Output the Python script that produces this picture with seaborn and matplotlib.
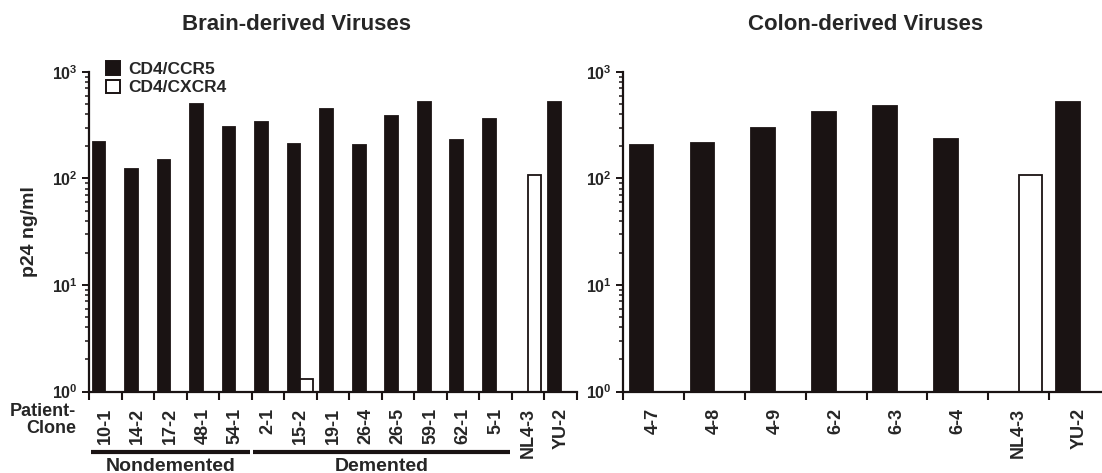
import numpy as np
import pandas as pd
import matplotlib
matplotlib.use("Agg")
import matplotlib.pyplot as plt
import seaborn as sns
from matplotlib.patches import Patch
from matplotlib.ticker import FixedLocator, NullFormatter, FuncFormatter
import matplotlib.transforms as mtransforms

# ---------------- data ----------------
brain_clones = ["10-1", "14-2", "17-2", "48-1", "54-1", "2-1", "15-2", "19-1",
                "26-4", "26-5", "59-1", "62-1", "5-1", "NL4-3", "YU-2"]
brain_ccr5 = [220, 122, 148, 500, 305, 340, 212, 452, 207, 383, 523, 228, 363, np.nan, 523]
brain_cxcr4 = [np.nan, np.nan, np.nan, np.nan, np.nan, np.nan, 1.3, np.nan,
               np.nan, np.nan, np.nan, np.nan, np.nan, 107, np.nan]

colon_clones = ["4-7", "4-8", "4-9", "6-2", "6-3", "6-4", "NL4-3", "YU-2"]
colon_ccr5 = [208, 216, 299, 419, 484, 235, np.nan, 523]
colon_cxcr4 = [np.nan, np.nan, np.nan, np.nan, np.nan, np.nan, 107, np.nan]

receptors = ["CD4/CCR5", "CD4/CXCR4"]
groups = [("Nondemented", 0, 4), ("Demented", 5, 12)]
titles = ["Brain-derived Viruses", "Colon-derived Viruses"]

def long_df(clones, ccr5, cxcr4):
    return pd.DataFrame({
        "clone": list(clones) * 2,
        "receptor": [receptors[0]] * len(clones) + [receptors[1]] * len(clones),
        "p24": list(ccr5) + list(cxcr4),
    })

brain_df = long_df(brain_clones, brain_ccr5, brain_cxcr4)
colon_df = long_df(colon_clones, colon_ccr5, colon_cxcr4)

# ---------------- style ----------------
sns.set_theme(style="ticks")
plt.rcParams["font.family"] = ["Liberation Sans", "DejaVu Sans"]
plt.rcParams["font.weight"] = "bold"
plt.rcParams["mathtext.fontset"] = "custom"
plt.rcParams["mathtext.rm"] = "Liberation Sans:bold"
plt.rcParams["mathtext.bf"] = "Liberation Sans:bold"
plt.rcParams["mathtext.it"] = "Liberation Sans:bold"

W, H = 1102, 473
fig = plt.figure(figsize=(W / 100, H / 100), dpi=100)

def px_axes(x0, x1, ytop, ybot):
    return fig.add_axes([x0 / W, (H - ybot) / H, (x1 - x0) / W, (ybot - ytop) / H])

ax1 = px_axes(89, 577, 72, 391.5)
ax2 = px_axes(623, 1110, 72, 391.5)

ink = "#1a1313"
palette = {receptors[0]: ink, receptors[1]: "white"}

def draw(ax, df, clones):
    ax.set_yscale("log")
    sns.barplot(data=df, x="clone", y="p24", hue="receptor", order=clones,
                hue_order=receptors, palette=palette, dodge=True, width=0.78,
                saturation=1, edgecolor=ink, linewidth=1.3,
                legend=False, errorbar=None, ax=ax)
    n = len(clones)
    ax.set_xlim(-0.5, n - 0.5)
    ax.set_ylim(1, 1000)
    ax.set_xlabel("")
    ax.set_ylabel("")
    ax.xaxis.set_major_locator(FixedLocator(np.arange(n + 1) - 0.5))
    ax.xaxis.set_major_formatter(NullFormatter())
    ax.xaxis.set_minor_locator(FixedLocator(np.arange(n)))
    ax.set_xticklabels(clones, minor=True, rotation=90, fontsize=13,
                       fontweight="bold", va="top")
    ax.tick_params(axis="x", which="major", length=6, width=1.5, direction="out",
                   color=ink)
    ax.tick_params(axis="x", which="minor", length=0, pad=12)
    ax.set_yticks([1, 10, 100, 1000])
    ax.yaxis.set_major_formatter(FuncFormatter(
        lambda v, p: r"$10^{%d}$" % int(round(np.log10(v)))))
    ax.tick_params(axis="y", which="major", length=5, width=1.4,
                   labelsize=11.5, pad=3, color=ink)
    ax.tick_params(axis="y", which="minor", length=3, width=1.1, color=ink)
    for s in ["top", "right"]:
        ax.spines[s].set_visible(False)
    for s in ["left", "bottom"]:
        ax.spines[s].set_linewidth(1.6)
        ax.spines[s].set_color(ink)

draw(ax1, brain_df, brain_clones)
draw(ax2, colon_df, colon_clones)

ax1.set_ylabel("p24 ng/ml", fontsize=14, fontweight="bold", labelpad=10)

# titles
fig.text(297 / W, (H - 25) / H, titles[0], ha="center", va="center",
         fontsize=16, fontweight="bold")
fig.text(866 / W, (H - 25) / H, titles[1], ha="center", va="center",
         fontsize=16, fontweight="bold")

# legend
handles = [Patch(facecolor=palette[r], edgecolor=ink, linewidth=1.4, label=r)
           for r in receptors]
leg = ax1.legend(handles=handles, loc="upper left", bbox_to_anchor=(0.02, 1.055),
                 frameon=False, fontsize=12.5, handlelength=0.8, handleheight=0.8,
                 handletextpad=0.5, labelspacing=0.15, borderaxespad=0)
for t in leg.get_texts():
    t.set_fontweight("bold")

# Patient-Clone label
fig.text(76 / W, (H - 420) / H, "Patient-\nClone", ha="right", va="center",
         multialignment="right", fontsize=13, fontweight="bold", linespacing=1.0)

# group lines and labels
trans = mtransforms.blended_transform_factory(ax1.transData, ax1.transAxes)
line_y = -(452 - 391.5) / 319.5
text_y = -(466 - 391.5) / 319.5
for name, i0, i1 in groups:
    ax1.plot([i0 - 0.45, i1 + 0.45], [line_y, line_y], color=ink, lw=3,
             transform=trans, clip_on=False, solid_capstyle="butt")
    ax1.text((i0 + i1) / 2, text_y, name, transform=trans, ha="center", va="center",
             fontsize=14, fontweight="bold")

fig.savefig("out.png", dpi=100, facecolor="white")
